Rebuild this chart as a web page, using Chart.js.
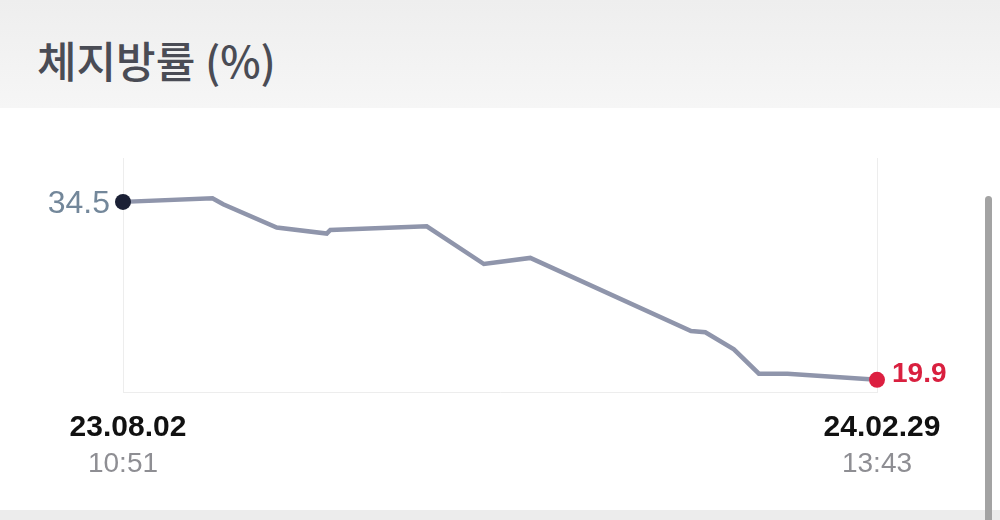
<!DOCTYPE html>
<html>
<head>
<meta charset="utf-8">
<script src="https://cdn.jsdelivr.net/npm/chart.js@4.4.1/dist/chart.umd.min.js"></script>
<style>
  html, body { margin: 0; padding: 0; width: 1000px; height: 520px; overflow: hidden; background: #ffffff; }
  #header { position: absolute; left: 0; top: 0; width: 1000px; height: 108px;
    background: linear-gradient(#eeeeee, #f6f6f6); }
  #title { position: absolute; left: 37px; top: 29px; font-family: "Noto Sans CJK KR", sans-serif;
    font-size: 43px; font-weight: 500; color: #4a4c55; line-height: 60px; white-space: nowrap; }
  #footer { position: absolute; left: 0; top: 510px; width: 1000px; height: 10px; background: #ececec; }
  #scroll { position: absolute; left: 985px; top: 196px; width: 7px; height: 330px; background: #a3a3a3; border-radius: 4px; }
  canvas { position: absolute; left: 0; top: 0; }
</style>
</head>
<body>
<div id="header"><div id="title">체지방률 (%)</div></div>
<div id="footer"></div>
<canvas id="c" width="1000" height="520"></canvas>
<div id="scroll"></div>
<script>
const dates = ["2023-08-02T10:51","2023-08-27T12:00","2023-08-30T12:00","2023-09-14T12:00","2023-09-28T12:00","2023-09-29T12:00","2023-10-26T12:00","2023-11-11T12:00","2023-11-24T12:00","2024-01-08T12:00","2024-01-12T12:00","2024-01-20T12:00","2024-01-27T12:00","2024-02-04T12:00","2024-02-29T13:43"];
const values = [34.5,34.8,34.3,32.4,31.9,32.2,32.5,29.4,29.9,23.9,23.8,22.4,20.4,20.4,19.9];
const startLabel = ["23.08.02", "10:51"];
const endLabel = ["24.02.29", "13:43"];

const times = dates.map(d => new Date(d + ":00Z").getTime());
const points = times.map((t, i) => ({ x: t, y: values[i] }));
const tMin = times[0], tMax = times[times.length - 1];
const last = values.length - 1;

const labelPlugin = {
  id: 'endLabels',
  afterDatasetsDraw(chart) {
    const ctx = chart.ctx;
    const meta = chart.getDatasetMeta(0);
    const p0 = meta.data[0], pN = meta.data[last];
    ctx.save();
    ctx.font = '32px "Liberation Sans", Arial, sans-serif';
    ctx.fillStyle = '#73879a';
    ctx.textAlign = 'right';
    ctx.textBaseline = 'alphabetic';
    ctx.fillText(values[0].toFixed(1), p0.x - 13, p0.y + 11);
    ctx.font = 'bold 28px "Liberation Sans", Arial, sans-serif';
    ctx.fillStyle = '#d9203f';
    ctx.textAlign = 'left';
    ctx.fillText(values[last].toFixed(1), pN.x + 15, pN.y + 2);
    const xs = chart.scales.x;
    const bottom = chart.chartArea.bottom;
    [[tMin, startLabel], [tMax, endLabel]].forEach(([t, lab]) => {
      const px = xs.getPixelForValue(t);
      ctx.textAlign = 'center';
      ctx.font = 'bold 30px "Liberation Sans", Arial, sans-serif';
      ctx.fillStyle = '#111111';
      ctx.fillText(lab[0], px + 5, bottom + 44);
      ctx.font = '28px "Liberation Sans", Arial, sans-serif';
      ctx.fillStyle = '#8e8e93';
      ctx.fillText(lab[1], px, bottom + 80);
    });
    ctx.restore();
  }
};

new Chart(document.getElementById('c'), {
  type: 'line',
  data: {
    datasets: [{
      data: points,
      borderColor: '#8f95ab',
      borderWidth: 4.5,
      tension: 0,
      clip: false,
      pointRadius: ctx => (ctx.dataIndex === 0 || ctx.dataIndex === last) ? 8 : 0,
      pointHoverRadius: 0,
      pointBorderWidth: 0,
      pointBackgroundColor: ctx => ctx.dataIndex === 0 ? '#1b2035' : '#dc1f40',
      pointBorderColor: 'rgba(0,0,0,0)'
    }]
  },
  options: {
    responsive: false,
    animation: false,
    layout: { padding: { left: 123, right: 123, top: 158, bottom: 128 } },
    plugins: { legend: { display: false }, tooltip: { enabled: false } },
    scales: {
      x: {
        type: 'linear',
        min: tMin,
        max: tMax,
        afterBuildTicks: s => { s.ticks = [{ value: tMin }, { value: tMax }]; },
        ticks: { display: false },
        grid: { color: '#ededed', lineWidth: 1, drawTicks: false },
        border: { display: true, color: '#ededed', width: 1 }
      },
      y: {
        display: false,
        min: 18.9,
        max: 38.1
      }
    }
  },
  plugins: [labelPlugin]
});
</script>
</body>
</html>
